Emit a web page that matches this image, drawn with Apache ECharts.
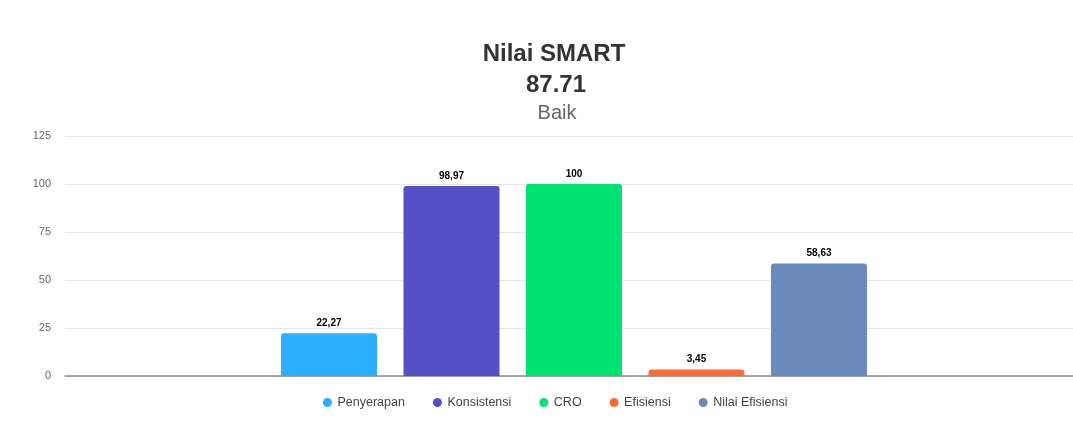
<!DOCTYPE html>
<html>
<head>
<meta charset="utf-8">
<title>Nilai SMART</title>
<script src="https://cdn.jsdelivr.net/npm/echarts@6/dist/echarts.min.js"></script>
<style>
	html, body { margin: 0; padding: 0; background: #fff; }
	#main { width: 1073px; height: 426px; }
</style>
</head>
<body>
<div id="main"></div>
<script>
// data
var seriesNames = ['Penyerapan', 'Konsistensi', 'CRO', 'Efisiensi', 'Nilai Efisiensi'];
var seriesValues = [22.27, 98.97, 100, 3.45, 58.63];
var seriesColors = ['#2caffe', '#544fc5', '#00e272', '#fe6a35', '#6b8abc'];
var yTicks = [0, 25, 50, 75, 100, 125];
var titleLines = ['Nilai SMART', '87.71', 'Baik'];

var FONT = '"Liberation Sans", Arial, sans-serif';

// 初始化echarts实例
var myChart = echarts.init(document.getElementById('main'));

var series = seriesNames.map(function(name, i){
	return {
		name: name,
		type: 'bar',
		data: [seriesValues[i]],
		barWidth: 96,
		barGap: '27.6%',
		itemStyle: {
			color: seriesColors[i],
			borderRadius: [3, 3, 0, 0]
		},
		label: {
			show: true,
			position: 'top',
			distance: 5,
			fontFamily: FONT,
			fontSize: 10,
			fontWeight: 'bold',
			color: '#000',
			textBorderColor: '#fff',
			textBorderWidth: 1,
			formatter: function(p){
				return String(p.value).replace('.', ',');
			}
		}
	};
});

var option = {
	backgroundColor: '#fff',
	animation: false,
	title: [
		{ text: titleLines[0], left: 554, top: 42, padding: 0, textAlign: 'center', textVerticalAlign: 'top',
		  textStyle: { fontFamily: FONT, fontSize: 24, fontWeight: 'bold', color: '#333' } },
		{ text: titleLines[1], left: 556, top: 73, padding: 0, textAlign: 'center', textVerticalAlign: 'top',
		  textStyle: { fontFamily: FONT, fontSize: 24, fontWeight: 'bold', color: '#333' } },
		{ text: titleLines[2], left: 557, top: 103, padding: 0, textAlign: 'center', textVerticalAlign: 'top',
		  textStyle: { fontFamily: FONT, fontSize: 20, fontWeight: 'normal', color: '#666' } }
	],
	legend: {
		data: seriesNames,
		left: 323,
		top: 396,
		padding: 0,
		icon: 'circle',
		itemWidth: 10,
		itemHeight: 9,
		itemGap: 28,
		textStyle: { fontFamily: FONT, fontSize: 12.5, color: '#444' }
	},
	grid: {
		left: 65,
		top: 136,
		width: 1018,
		height: 240,
		outerBoundsMode: 'none',
		containLabel: false
	},
	xAxis: {
		type: 'category',
		data: [''],
		axisTick: { show: false },
		axisLabel: { show: false },
		axisLine: { lineStyle: { color: '#8c8c8c', width: 1.5 } }
	},
	yAxis: {
		type: 'value',
		min: yTicks[0],
		max: yTicks[yTicks.length - 1],
		interval: 25,
		axisLine: { show: false },
		axisTick: { show: false },
		axisLabel: { margin: 14, fontFamily: FONT, fontSize: 11, color: '#666' },
		splitLine: { lineStyle: { color: '#e6e6e6', width: 1 } }
	},
	series: series
};
myChart.setOption(option);
</script>
</body>
</html>
